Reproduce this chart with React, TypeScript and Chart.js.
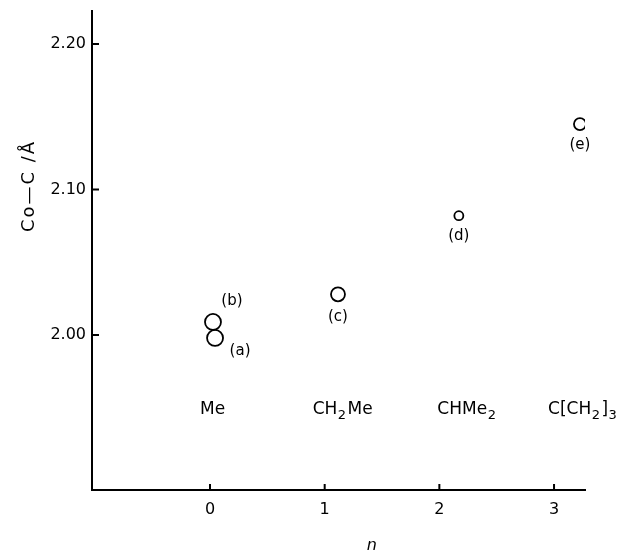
import React, { useEffect, useRef } from 'react';
import { Chart, registerables } from 'chart.js';
Chart.register(...registerables);

// ---- data ----
const pointN = [0.044, 0.026, 1.116, 2.17, 3.226];
const coCDistance = [1.998, 2.009, 2.028, 2.082, 2.145];
const pointNames = ['(a)', '(b)', '(c)', '(d)', '(e)'];
const xTickValues = [0, 1, 2, 3];
const yTickValues = [2.0, 2.1, 2.2];
const groupN = [0, 1, 2, 3];
const groupLabels = ['Me', 'CH_2Me', 'CHMe_2', 'C[CH_2]_3'];
const groupLevel = 1.95;
const xRange = [-1.029, 3.27];
const yRange = [1.8935, 2.2227];
const xTitle = 'n';
const yTitle = 'Co—C /Å';

// ---- styles ----
const pointRadii = [8, 8, 7, 4.5, 6];
const labelOffsets = [[25, 13], [19, -21], [0, 23], [0, 20], [0, 21]];
const groupOffsets = [-10, -12, -2, -6];
const FONT = "'DejaVu Sans', sans-serif";

function drawRich(ctx: CanvasRenderingContext2D, text: string, x: number, y: number) {
  let cx = x;
  const parts: { t: string; sub: boolean }[] = [];
  for (let i = 0; i < text.length; i++) {
    if (text[i] === '_' && i + 1 < text.length) {
      parts.push({ t: text[i + 1], sub: true });
      i++;
    } else {
      const last = parts[parts.length - 1];
      if (last && !last.sub) last.t += text[i];
      else parts.push({ t: text[i], sub: false });
    }
  }
  ctx.textAlign = 'left';
  ctx.textBaseline = 'alphabetic';
  for (const p of parts) {
    ctx.font = p.sub ? `13px ${FONT}` : `17px ${FONT}`;
    ctx.fillText(p.t, cx, p.sub ? y + 5 : y);
    cx += ctx.measureText(p.t).width + (p.sub ? 1.5 : 0.5);
  }
}

const decorPlugin = {
  id: 'decor',
  afterDraw(chart: any) {
    const ctx = chart.ctx as CanvasRenderingContext2D;
    const xs = chart.scales.x;
    const ys = chart.scales.y;
    const area = chart.chartArea;
    ctx.save();
    ctx.strokeStyle = '#000';
    ctx.fillStyle = '#000';
    ctx.lineWidth = 2;
    ctx.beginPath();
    for (const v of xTickValues) {
      const px = xs.getPixelForValue(v);
      ctx.moveTo(px, area.bottom);
      ctx.lineTo(px, area.bottom - 6);
    }
    for (const v of yTickValues) {
      const py = ys.getPixelForValue(v);
      ctx.moveTo(area.left, py);
      ctx.lineTo(area.left + 7, py);
    }
    ctx.stroke();
    ctx.font = `15px ${FONT}`;
    ctx.textAlign = 'center';
    ctx.textBaseline = 'middle';
    pointNames.forEach((name, i) => {
      const px = xs.getPixelForValue(pointN[i]) + labelOffsets[i][0];
      const py = ys.getPixelForValue(coCDistance[i]) + labelOffsets[i][1];
      ctx.fillText(name, px, py);
    });
    groupLabels.forEach((lab, i) => {
      const px = xs.getPixelForValue(groupN[i]) + groupOffsets[i];
      const py = ys.getPixelForValue(groupLevel) + 6;
      drawRich(ctx, lab, px, py);
    });
    ctx.font = `italic 16px ${FONT}`;
    ctx.textAlign = 'center';
    ctx.textBaseline = 'middle';
    ctx.fillText(xTitle, xs.getPixelForValue(1.41), area.bottom + 56);
    ctx.translate(29, 186);
    ctx.rotate(-Math.PI / 2);
    ctx.font = `18px ${FONT}`;
    (ctx as any).letterSpacing = '2px';
    ctx.fillText(yTitle, 0, 0);
    ctx.restore();
  },
};

export default function App() {
  const ref = useRef<HTMLCanvasElement>(null);
  useEffect(() => {
    document.body.style.margin = '0';
    const chart = new Chart(ref.current!, {
      type: 'scatter',
      data: {
        datasets: [
          {
            data: pointN.map((n, i) => ({ x: n, y: coCDistance[i] })),
            pointRadius: pointRadii,
            pointHoverRadius: pointRadii,
            pointBorderWidth: 1.8,
            borderColor: '#000',
            backgroundColor: 'rgba(255,255,255,0)',
            pointBackgroundColor: 'rgba(255,255,255,0)',
            pointBorderColor: '#000',
          },
        ],
      },
      options: {
        animation: false,
        responsive: false,
        layout: { padding: { top: 11, right: 33, left: 0, bottom: 0 } },
        plugins: { legend: { display: false }, tooltip: { enabled: false } },
        scales: {
          x: {
            type: 'linear',
            min: xRange[0],
            max: xRange[1],
            afterBuildTicks: (s: any) => {
              s.ticks = xTickValues.map((v) => ({ value: v }));
            },
            afterFit: (s: any) => {
              s.height = 62;
              s.paddingLeft = 0;
              s.paddingRight = 0;
            },
            grid: { display: false, drawTicks: false, tickLength: 0 },
            border: { display: true, color: '#000', width: 2 },
            ticks: {
              color: '#000',
              font: { family: FONT, size: 16 },
              padding: 10,
              callback: (v: any) => String(v),
            },
          },
          y: {
            type: 'linear',
            min: yRange[0],
            max: yRange[1],
            afterBuildTicks: (s: any) => {
              s.ticks = yTickValues.map((v) => ({ value: v }));
            },
            afterFit: (s: any) => {
              s.width = 92;
              s.paddingTop = 0;
              s.paddingBottom = 0;
            },
            grid: { display: false, drawTicks: false, tickLength: 0 },
            border: { display: true, color: '#000', width: 2 },
            ticks: {
              color: '#000',
              font: { family: FONT, size: 16 },
              padding: 6,
              callback: (v: any) => Number(v).toFixed(2),
            },
          },
        },
      },
      plugins: [decorPlugin],
    });
    return () => chart.destroy();
  }, []);
  return (
    <div style={{ width: 618, height: 552 }}>
      <canvas ref={ref} width={618} height={552} />
    </div>
  );
}
